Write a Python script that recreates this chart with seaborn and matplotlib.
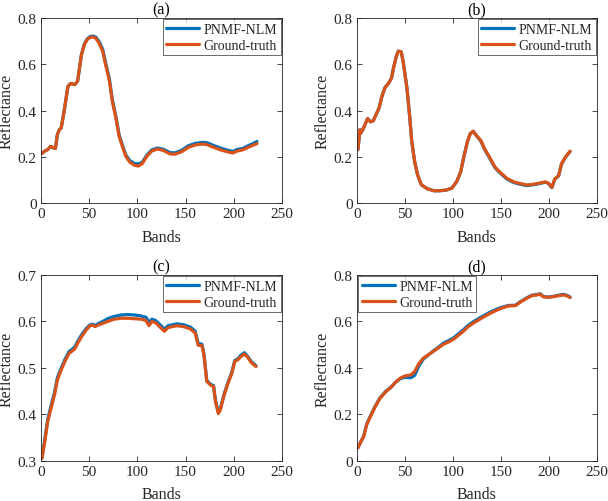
import numpy as np
import pandas as pd
import seaborn as sns
import matplotlib
matplotlib.use('Agg')
import matplotlib.pyplot as plt
from matplotlib.ticker import FuncFormatter

# panel (a)
bands_a = [1, 4, 7, 10, 13, 15, 17, 19, 21, 24, 28, 31, 35, 38, 40, 42, 45, 48, 51, 54, 57, 60,
           64, 67, 71, 74, 78, 81, 85, 88, 92, 97, 101, 105, 110, 115, 121, 127, 134, 139, 146,
           153, 160, 167, 172, 179, 186, 193, 199, 203, 210, 215, 220, 224]
gt_a = [0.215, 0.225, 0.231, 0.245, 0.238, 0.236, 0.296, 0.317, 0.325, 0.397, 0.505, 0.517, 0.512,
        0.527, 0.584, 0.642, 0.685, 0.707, 0.716, 0.718, 0.712, 0.693, 0.657, 0.599, 0.527, 0.44,
        0.361, 0.289, 0.238, 0.202, 0.177, 0.163, 0.160, 0.170, 0.203, 0.225, 0.234, 0.227, 0.212,
        0.211, 0.222, 0.241, 0.251, 0.255, 0.253, 0.241, 0.230, 0.222, 0.216, 0.224, 0.231, 0.241,
        0.250, 0.257]
est_a = [0.215, 0.225, 0.231, 0.245, 0.238, 0.236, 0.296, 0.317, 0.325, 0.397, 0.505, 0.517, 0.512,
         0.527, 0.584, 0.642, 0.688, 0.710, 0.720, 0.722, 0.717, 0.700, 0.665, 0.607, 0.535, 0.448,
         0.368, 0.295, 0.243, 0.208, 0.184, 0.171, 0.169, 0.176, 0.208, 0.230, 0.238, 0.232, 0.218,
         0.217, 0.228, 0.248, 0.258, 0.262, 0.261, 0.249, 0.238, 0.229, 0.223, 0.231, 0.237, 0.248,
         0.257, 0.266]

# panel (b)
bands_b = [1, 3, 4, 6, 9, 11, 14, 17, 19, 23, 26, 29, 33, 36, 38, 41, 43, 46, 48, 52, 55, 57, 60,
           63, 67, 73, 80, 86, 93, 99, 104, 108, 111, 115, 118, 121, 124, 129, 133, 139, 144, 149,
           156, 163, 170, 177, 184, 191, 196, 199, 203, 206, 210, 213, 217, 222]
gt_b = [0.231, 0.317, 0.303, 0.317, 0.346, 0.365, 0.351, 0.356, 0.375, 0.411, 0.462, 0.498, 0.519,
        0.541, 0.584, 0.635, 0.657, 0.654, 0.613, 0.498, 0.368, 0.267, 0.180, 0.123, 0.079, 0.062,
        0.053, 0.053, 0.056, 0.065, 0.094, 0.135, 0.195, 0.265, 0.300, 0.310, 0.294, 0.270, 0.234,
        0.191, 0.154, 0.133, 0.107, 0.092, 0.084, 0.078, 0.081, 0.087, 0.091, 0.087, 0.068, 0.104,
        0.118, 0.169, 0.198, 0.224]
est_b = [0.231, 0.317, 0.303, 0.317, 0.346, 0.365, 0.351, 0.356, 0.375, 0.411, 0.462, 0.498, 0.519,
         0.541, 0.584, 0.635, 0.657, 0.654, 0.613, 0.498, 0.368, 0.267, 0.180, 0.123, 0.079, 0.062,
         0.053, 0.053, 0.056, 0.065, 0.094, 0.135, 0.195, 0.265, 0.300, 0.310, 0.294, 0.268, 0.231,
         0.188, 0.151, 0.130, 0.104, 0.089, 0.081, 0.075, 0.079, 0.085, 0.090, 0.086, 0.066, 0.103,
         0.117, 0.168, 0.197, 0.223]

# panel (c)
bands_c = [1, 4, 7, 10, 14, 17, 21, 25, 29, 35, 38, 42, 47, 51, 54, 56, 59, 64, 69, 76, 83, 90, 97,
           104, 109, 112, 115, 119, 122, 128, 132, 141, 148, 155, 160, 163, 167, 169, 172, 176, 179,
           181, 184, 186, 190, 194, 198, 201, 205, 207, 211, 214, 218, 223]
gt_c = [0.306, 0.342, 0.385, 0.410, 0.442, 0.474, 0.496, 0.515, 0.531, 0.541, 0.553, 0.567, 0.582,
        0.591, 0.592, 0.589, 0.592, 0.596, 0.600, 0.605, 0.607, 0.607, 0.606, 0.605, 0.602, 0.591,
        0.600, 0.597, 0.591, 0.579, 0.587, 0.591, 0.589, 0.584, 0.575, 0.549, 0.548, 0.528, 0.471,
        0.463, 0.460, 0.428, 0.402, 0.410, 0.442, 0.467, 0.489, 0.514, 0.519, 0.524, 0.530, 0.524,
        0.512, 0.503]
est_c = [0.306, 0.347, 0.390, 0.415, 0.447, 0.479, 0.500, 0.519, 0.535, 0.545, 0.557, 0.571, 0.585,
         0.593, 0.594, 0.591, 0.595, 0.600, 0.606, 0.611, 0.614, 0.615, 0.614, 0.612, 0.609, 0.598,
         0.605, 0.602, 0.596, 0.584, 0.591, 0.595, 0.593, 0.588, 0.579, 0.553, 0.551, 0.531, 0.473,
         0.465, 0.462, 0.430, 0.404, 0.412, 0.444, 0.469, 0.491, 0.516, 0.521, 0.527, 0.533, 0.526,
         0.514, 0.505]

# panel (d)
bands_d = [1, 4, 7, 10, 14, 19, 24, 30, 35, 40, 45, 50, 56, 60, 64, 69, 75, 80, 85, 90, 96, 101,
           106, 111, 116, 122, 128, 139, 149, 158, 165, 170, 177, 182, 187, 191, 194, 199, 205, 210,
           215, 219, 222]
gt_d = [0.057, 0.083, 0.105, 0.155, 0.191, 0.234, 0.270, 0.298, 0.315, 0.338, 0.356, 0.366, 0.370,
        0.384, 0.416, 0.442, 0.459, 0.473, 0.487, 0.502, 0.513, 0.525, 0.542, 0.559, 0.578, 0.595,
        0.610, 0.636, 0.655, 0.667, 0.668, 0.683, 0.700, 0.711, 0.714, 0.717, 0.706, 0.704, 0.707,
        0.711, 0.714, 0.710, 0.703]
est_d = [0.057, 0.083, 0.108, 0.158, 0.194, 0.236, 0.272, 0.300, 0.316, 0.338, 0.354, 0.360, 0.358,
         0.368, 0.405, 0.438, 0.458, 0.475, 0.490, 0.507, 0.519, 0.531, 0.548, 0.565, 0.584, 0.601,
         0.616, 0.641, 0.659, 0.669, 0.670, 0.685, 0.702, 0.713, 0.716, 0.719, 0.708, 0.705, 0.708,
         0.713, 0.717, 0.712, 0.705]

titles = ['(a)', '(b)', '(c)', '(d)']
ylims = [(0, 0.8), (0, 0.8), (0.3, 0.7), (0, 0.8)]
yticks = [[0, 0.2, 0.4, 0.6, 0.8], [0, 0.2, 0.4, 0.6, 0.8],
          [0.3, 0.4, 0.5, 0.6, 0.7], [0, 0.2, 0.4, 0.6, 0.8]]
legend_loc = ['upper right', 'upper right', 'upper right', 'upper left']

sns.set_theme(style='ticks')
plt.rcParams['font.family'] = ['Liberation Serif', 'DejaVu Serif']

fig = plt.figure(figsize=(6.08, 5.02), dpi=100)
positions = [[0.0674, 0.5936, 0.3964, 0.3685], [0.5872, 0.5936, 0.3947, 0.3685],
             [0.0674, 0.0797, 0.3964, 0.3705], [0.5872, 0.0797, 0.3947, 0.3705]]
data = [(bands_a, est_a, gt_a), (bands_b, est_b, gt_b), (bands_c, est_c, gt_c), (bands_d, est_d, gt_d)]

edge = '#262626'
for i, (bands, est, gt) in enumerate(data):
    ax = fig.add_axes(positions[i])
    sns.lineplot(x=bands, y=est, ax=ax, color='#0072BD', lw=2.3, label='PNMF-NLM')
    sns.lineplot(x=bands, y=gt, ax=ax, color='#D95319', lw=2.3, label='Ground-truth')
    ax.set_xlim(0, 250)
    ax.set_ylim(*ylims[i])
    ax.set_xticks([0, 50, 100, 150, 200, 250])
    ax.set_yticks(yticks[i])
    ax.yaxis.set_major_formatter(FuncFormatter(lambda v, _: '%g' % round(v, 2)))
    ax.tick_params(direction='in', top=True, right=True, length=3.5, width=0.6,
                   color=edge, labelcolor=edge, labelsize=11, pad=3)
    for sp in ax.spines.values():
        sp.set_visible(True)
        sp.set_color(edge)
        sp.set_linewidth(0.6)
    ax.set_xlabel('Bands', fontsize=11.5, color=edge, labelpad=6)
    ax.set_ylabel('Reflectance', fontsize=11.5, color=edge, labelpad=2)
    ax.set_title(titles[i], fontsize=11.5, color='black', pad=3)
    leg = ax.legend(loc=legend_loc[i], fontsize=10, frameon=True, fancybox=False,
                    borderaxespad=0.1, handlelength=2.4, handletextpad=0.3,
                    borderpad=0.25, labelspacing=0.2)
    leg.get_frame().set_edgecolor(edge)
    leg.get_frame().set_linewidth(0.6)
    for t in leg.get_texts():
        t.set_color(edge)

plt.savefig('out.png', dpi=100)
